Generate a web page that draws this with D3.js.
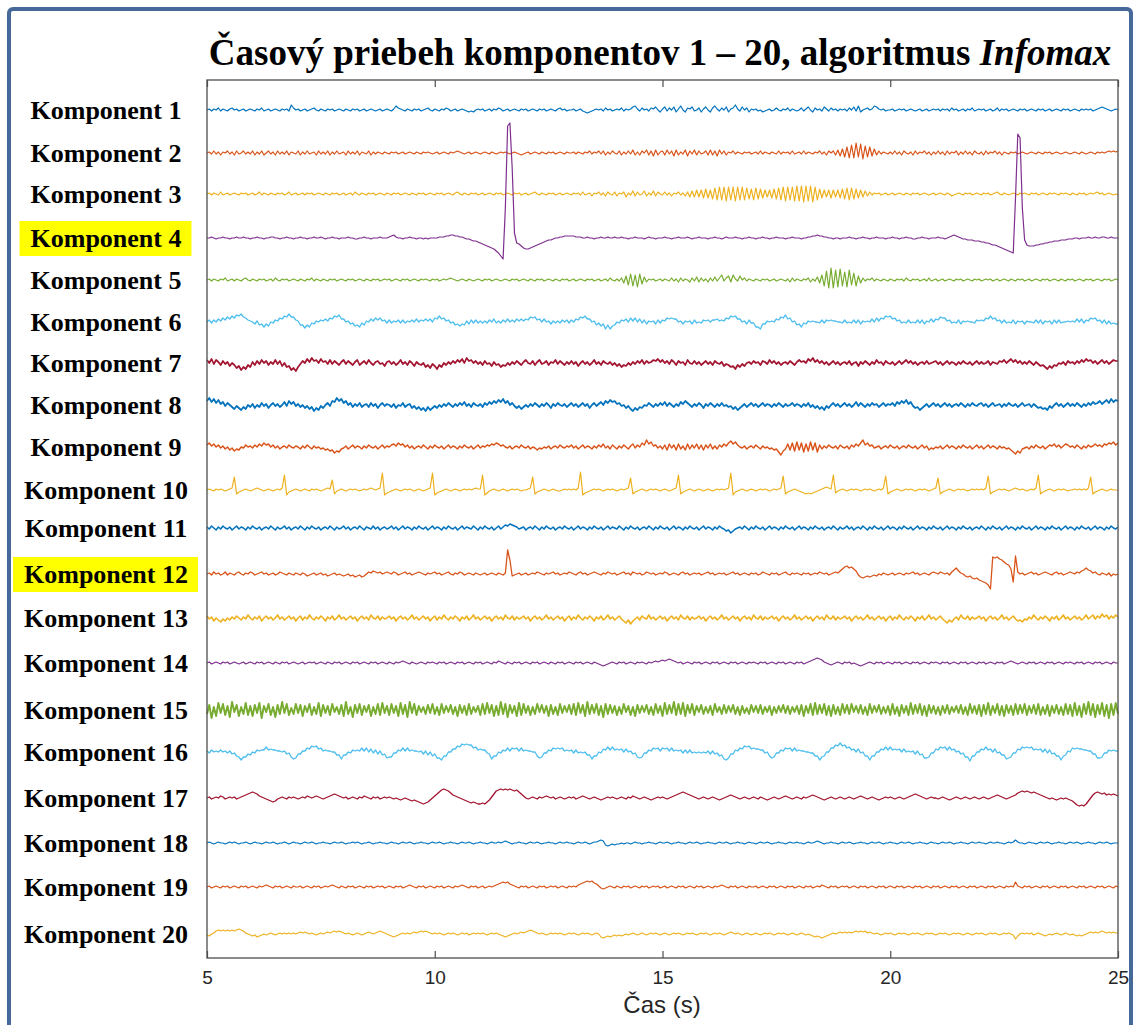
<!DOCTYPE html>
<html>
<head>
<meta charset="utf-8">
<style>
  body { margin: 0; background: #fff; }
  svg { display: block; }
  .comp-label { font-family: "Liberation Serif", "Times New Roman", serif; font-weight: bold; font-size: 26px; fill: #000; }
</style>
</head>
<body>
<svg width="1136" height="1025"></svg>
<script src="https://d3js.org/d3.v7.min.js"></script>
<script>
// ---- data ----
const labels = ["Komponent 1","Komponent 2","Komponent 3","Komponent 4","Komponent 5","Komponent 6","Komponent 7","Komponent 8","Komponent 9","Komponent 10",
  "Komponent 11","Komponent 12","Komponent 13","Komponent 14","Komponent 15","Komponent 16","Komponent 17","Komponent 18","Komponent 19","Komponent 20"];
const highlighted = [4, 12];
// vertical offset of each component (plot units)
const offsets = [848, 805, 764, 720, 678, 636, 595, 553, 511, 468, 430, 384, 340, 295, 248, 206, 160, 115, 71, 24];
const timeStart = 5;
const timeStep = 0.05;
const xTicks = [5, 10, 15, 20, 25];

const comp1 = [
0,1,-1,1,0,2,-1,1,0,-1,1,2,0,1,-1,0,1,-1,0,1,
0,-1,1,0,2,-1,0,1,-1,0,1,0,-1,1,0,1,-1,5,2,0,
1,-1,0,1,-1,0,1,2,0,-1,1,0,-1,1,0,1,-1,0,1,0,
-1,1,0,-1,1,0,1,-1,0,1,-1,0,1,0,-1,0,1,-1,0,1,
0,-1,1,4,2,1,0,-1,1,0,-1,1,0,1,-1,0,1,2,0,-1,
1,0,-1,1,0,2,1,-1,0,1,-1,0,1,0,-1,-2,-1,-2,0,1,
0,1,-1,0,1,-1,1,0,2,1,-1,0,1,-1,0,1,0,-1,1,0,
1,-1,0,1,0,-1,1,0,1,-1,0,1,0,-1,1,2,0,1,-1,0,
0,1,-1,0,1,-1,-2,-3,-2,-1,0,1,0,1,-1,2,0,1,-1,0,
1,0,2,-1,1,0,1,3,4,1,-1,2,0,1,-1,2,1,3,0,-2,
1,3,-1,2,0,3,-2,1,4,0,-2,2,1,3,-1,0,2,-2,1,3,
0,-2,2,4,1,-1,2,0,3,-2,1,2,5,1,-1,3,0,2,-2,1,
0,1,-1,0,-2,-1,0,1,-1,0,2,0,-1,1,0,2,-1,1,0,-1,
0,2,-1,1,3,0,-2,2,0,1,-1,3,1,-1,2,0,1,-1,1,0,
1,-1,2,0,3,-1,4,-2,0,1,2,0,1,4,3,1,0,1,-1,0,
0,1,-1,0,1,0,1,-1,0,1,0,-1,0,1,-1,0,1,-1,0,1,
0,1,-1,1,0,1,-1,2,0,1,-1,0,1,-1,1,0,2,-1,0,1,
0,1,-1,0,1,-1,0,2,-1,1,0,1,-1,0,1,0,-1,1,0,1,
-1,0,1,0,-1,1,0,1,-1,0,1,-1,0,1,0,-1,1,0,1,-1,
0,1,0,-1,1,0,1,0,1,-1,0,1,2,3,2,1,0,-1,0,1,
0];

const comp2 = [
0,1,-1,2,-1,1,-2,1,0,2,-1,1,-2,2,-1,0,2,-1,1,-1,
2,-2,1,-1,2,-2,0,2,-1,1,-2,2,-1,1,-1,2,-2,1,0,-1,
2,-2,1,-1,2,-1,0,1,-2,2,-1,1,-1,2,-2,1,-1,2,-1,0,
1,-2,2,-1,1,-1,2,-2,1,0,-1,2,-2,1,-1,1,0,-1,1,0,
-1,1,0,1,-1,0,1,-1,0,1,0,-1,1,0,-1,1,0,1,0,-1,
0,1,-1,0,1,0,-1,1,0,1,2,1,0,-1,0,1,-1,0,1,0,
-1,0,1,0,-1,1,0,-1,0,1,0,1,0,-1,0,1,0,-1,-2,-1,
0,1,-1,0,1,0,-1,1,0,-1,1,0,1,-1,0,1,0,-1,1,0,
0,1,-1,1,0,-1,1,0,2,-1,1,0,2,-1,2,-2,1,-1,2,0,
-1,2,-2,1,-1,2,-1,3,-2,1,-2,2,0,3,-2,2,-3,3,-2,1,
2,-2,3,-1,2,-3,3,-2,1,-1,3,-3,2,-1,3,-2,2,-1,0,2,
-2,3,-2,2,-3,3,-1,2,-2,1,0,2,-1,1,0,-1,1,0,1,-1,
0,1,-1,2,-1,1,0,-1,1,0,-1,2,-1,1,0,1,-1,2,-1,0,
1,-1,2,-1,1,0,-1,1,0,2,-1,1,-2,2,0,2,-2,3,-3,4,
-4,6,-5,8,-5,10,-4,9,-6,7,-4,6,-3,4,-2,2,-1,1,0,-1,
1,-1,2,-1,1,-2,2,0,-1,1,-2,2,-1,1,0,2,-1,1,-2,1,
-1,2,-1,1,-2,2,-1,1,0,2,-2,1,-1,2,-1,1,-2,2,0,-1,
1,-2,2,-1,1,0,2,-1,1,-2,1,0,-1,1,0,1,-1,0,1,0,
-1,0,1,0,-1,1,0,-1,1,0,1,-1,0,1,0,-1,0,1,0,-1,
0,1,0,-1,1,0,-1,0,1,0,-1,1,0,1,0,1,2,1,2,1,
2];

const comp3 = [
0,1,-1,1,0,-1,2,-1,0,1,-1,0,1,0,-1,1,0,1,-1,0,
1,-1,0,2,-1,1,0,-1,1,0,-1,1,0,1,-1,0,2,-1,0,1,
-1,0,1,-1,1,0,1,-1,0,1,0,-1,1,0,-1,1,0,1,-1,0,
1,-1,0,1,-1,2,0,-1,1,0,-1,1,0,1,-1,0,1,0,-1,1,
0,-1,1,0,1,-1,0,1,0,-1,1,0,-1,1,0,1,-1,0,1,0,
-1,1,0,1,-1,0,1,0,-1,1,2,0,-1,1,0,-1,1,0,1,-1,
0,1,-1,0,1,0,-1,1,0,1,-1,0,1,0,-1,1,0,1,-1,0,
1,-1,0,1,2,0,-1,1,0,-1,1,0,1,-1,0,1,-1,0,1,0,
-1,1,0,1,-1,2,-1,0,1,-2,1,0,2,-1,1,-2,2,0,-1,2,
-2,1,0,2,-3,1,-1,3,-2,2,-1,0,3,-2,1,-1,3,-2,2,0,
-1,2,-1,1,-2,1,0,2,-1,1,-2,2,-3,3,-3,4,-3,4,-4,5,
-4,4,-5,6,-6,7,-6,7,-7,7,-6,7,-7,7,-6,7,-6,6,-5,5,
-6,6,-5,5,-4,4,-3,4,-4,5,-5,6,-6,7,-7,7,-6,7,-7,8,
-7,8,-8,8,-7,8,-8,7,-6,5,-4,4,-3,4,-4,4,-3,4,-4,5,
-5,6,-6,6,-5,5,-4,4,-3,3,-2,2,-1,1,0,1,-1,0,1,-1,
0,1,-1,0,1,0,-1,1,0,-1,1,0,1,-1,0,1,0,-1,0,1,
-1,0,1,0,-1,1,0,-2,-1,0,1,0,-1,1,0,1,-1,0,1,0,
-1,1,0,1,-1,0,1,2,0,-1,1,0,-1,0,1,0,-1,1,0,1,
0,-1,1,0,1,-1,0,1,0,-1,1,0,1,0,-1,1,0,1,0,-1,
1,0,-1,1,0,1,-1,0,1,0,1,2,0,1,-1,0,1,0,-1,0,
-1];

const comp4 = [
0,0,1,0,-1,0,0,1,0,0,-1,0,0,1,0,0,1,0,0,-1,
0,0,1,0,0,-1,0,0,1,1,0,0,-1,0,0,1,0,0,-1,0,
0,1,0,0,-1,0,0,1,0,0,1,0,-1,0,0,1,0,0,-1,0,
0,0,1,0,0,-1,-1,0,0,1,0,0,-1,0,0,0,1,0,0,0,
1,2,3,1,0,0,-1,0,0,1,0,0,-1,0,0,-1,0,-1,0,0,
0,0,1,1,1,2,2,3,3,2,2,1,1,0,-1,-1,-2,-3,-3,-4,
-5,-6,-7,-8,-9,-10,-11,-13,-15,-18,-21,30,112,115,70,5,-5,-6,-8,-10,
-11,-11,-10,-9,-8,-7,-6,-5,-4,-3,-2,-2,-1,0,0,1,1,2,2,2,
2,2,1,1,1,0,0,1,0,0,-1,0,0,1,0,0,1,0,0,1,
0,0,1,0,0,-1,0,0,1,0,0,0,-1,0,1,0,0,-1,0,0,
0,1,0,0,-1,0,0,1,0,0,0,1,0,-1,0,0,1,0,0,0,
-1,0,0,1,0,0,-1,0,1,0,0,0,1,0,0,-1,0,0,1,0,
0,-1,0,0,1,0,0,-1,0,0,1,0,0,0,-1,0,0,1,0,0,
0,-1,0,0,1,1,2,2,3,2,2,1,1,0,0,-1,0,0,-1,0,
0,0,1,0,0,-1,0,0,1,0,0,-1,0,0,1,0,0,0,-1,0,
0,1,0,0,-1,0,0,1,0,0,-1,-1,0,0,1,0,0,-1,0,0,
0,1,0,0,-1,0,1,2,3,2,1,0,-1,-1,-2,-2,-2,-3,-3,-3,
-4,-4,-5,-5,-6,-7,-7,-8,-9,-10,-11,-12,-13,-14,-15,40,104,100,30,-2,
-7,-8,-8,-8,-7,-7,-6,-6,-5,-5,-4,-4,-3,-3,-3,-2,-2,-2,-1,-1,
-1,0,0,-1,0,0,0,1,0,0,1,0,0,1,1,0,0,1,0,0,
0];

const comp5 = [
0,1,-1,1,0,-1,1,0,2,-1,0,1,-1,1,0,-1,1,2,0,-1,
1,0,-1,1,0,1,-1,0,1,-1,2,0,-1,1,0,1,-1,0,1,0,
-1,1,0,-1,1,0,2,-1,1,0,-1,1,0,-1,1,0,1,-1,0,1,
0,-1,1,0,1,-1,0,1,0,-1,1,0,-1,1,0,1,-1,0,1,0,
1,-1,0,1,0,-1,1,0,1,-1,0,1,0,-1,1,0,1,0,-1,1,
0,1,-1,0,1,0,1,2,1,0,-1,0,1,0,-1,1,0,-1,0,1,
0,-1,1,0,1,-1,0,1,0,-1,0,1,0,-1,1,0,1,-1,0,1,
0,-1,1,0,-1,1,0,1,-1,0,1,0,-1,1,0,-1,1,0,1,-1,
0,1,-1,0,1,0,-1,1,0,1,-1,0,1,-1,0,1,-1,2,0,-1,
1,-1,2,-3,4,-5,6,-6,5,-7,6,-4,3,-2,1,0,1,-1,0,1,
-1,1,0,-1,2,-1,1,-2,2,-1,1,0,-2,2,-1,3,-2,2,-1,1,
-2,2,-1,3,-1,2,5,-1,2,4,-2,5,1,-1,4,0,2,-1,1,0,
-1,1,0,-1,1,0,1,-1,0,1,-1,0,1,0,-1,1,-2,2,-1,1,
0,-1,1,0,2,-2,1,-1,3,-3,5,-6,9,-8,12,-8,10,-7,11,-6,
8,-7,10,-5,7,-6,4,-3,2,-1,1,0,2,-1,1,0,-1,1,0,-1,
1,0,-1,1,0,1,-1,2,0,-1,1,0,1,-1,0,1,-1,2,-1,0,
1,-1,0,1,-1,0,1,0,-1,1,0,1,-1,0,1,0,-1,1,0,1,
-1,0,1,0,1,-1,0,1,-1,0,1,0,-1,1,0,-1,1,0,1,-1,
0,1,-1,0,1,0,-1,1,0,1,-1,0,1,0,-1,1,0,-1,1,0,
1,-1,0,1,0,-1,1,0,1,-1,0,1,0,-1,1,0,1,-1,0,1,
0];

const comp6 = [
0,2,-1,2,0,3,1,4,2,5,3,6,4,7,6,8,5,4,2,1,
0,-2,1,-3,-2,-5,-2,-4,0,-1,2,1,4,3,6,5,8,5,5,2,
1,-3,-3,-6,-3,-5,-1,-2,1,0,2,1,3,1,4,3,6,5,7,3,
3,0,1,-2,-1,-4,-3,-5,-1,-3,1,0,3,1,4,2,4,1,2,-1,
2,-1,1,0,2,-1,2,-1,1,0,2,0,3,0,2,1,3,1,3,0,
4,3,6,3,4,1,2,-1,0,-3,-2,-4,-2,-3,1,-2,2,-1,2,-1,
1,-1,1,-1,2,0,3,-1,1,-1,2,0,3,0,2,0,3,1,3,1,
3,2,5,4,5,2,3,0,3,0,1,-2,1,-1,1,-1,2,0,2,-1,
2,0,3,2,5,4,6,3,3,0,1,-3,-1,-4,-2,-7,-3,-7,-4,-3,
0,-1,2,1,3,0,4,1,4,0,3,-1,2,-2,1,0,1,-2,2,-1,
2,1,4,3,4,3,3,0,1,-2,1,0,1,-2,2,-1,0,-1,2,1,
2,0,2,2,3,1,2,1,4,3,6,5,6,3,3,0,1,-2,2,-1,
-1,-5,-5,-7,-2,-2,1,0,1,0,3,2,5,4,7,3,4,0,1,-3,
-2,-5,-1,-2,1,0,1,0,0,-1,2,-1,2,1,2,1,1,0,0,-1,
2,-1,0,-1,2,-1,2,-2,1,0,1,0,3,0,4,1,4,3,6,5,
6,3,4,1,2,-1,0,-1,2,-1,0,-1,2,-1,2,-2,1,0,3,0,
3,2,5,4,4,1,2,-1,0,-1,2,-2,1,0,1,0,0,-1,2,1,
2,1,4,3,6,3,4,1,2,-1,2,-1,0,-1,2,-2,1,0,1,-2,
1,0,0,-1,2,-1,2,-2,1,0,1,-2,2,-1,2,-1,0,0,1,0,
1,0,3,0,3,-1,2,1,4,3,4,1,2,-1,2,-2,1,-2,-1,-2,
-2];

const comp7 = [
3,0,4,-1,3,1,-2,2,-1,1,-3,0,-2,-5,-3,-7,-4,-6,-2,-4,
1,-2,2,-1,3,0,2,-2,1,-1,3,-1,2,-3,0,-4,-3,-7,-5,-8,
-4,-1,2,0,4,1,5,2,3,0,4,1,2,-1,3,-1,2,0,-2,1,
3,-1,2,0,-2,1,3,-2,0,2,-1,3,0,-2,1,2,-1,0,-3,1,
2,-1,1,-2,0,3,-1,1,-2,2,0,-3,1,-1,-2,0,-4,-2,-5,-1,
-3,-6,-2,-4,0,-2,1,-1,2,0,3,1,4,0,5,2,3,0,2,-1,
1,-2,2,-1,0,-3,1,-2,-1,-4,-2,-3,0,-2,1,-1,2,0,-2,1,
3,0,-1,2,-2,1,3,-1,0,2,-2,1,0,3,-1,2,0,-2,1,-1,
2,-1,1,-3,0,2,-1,1,-2,0,3,-1,1,-2,2,0,-1,1,-2,0,
-3,-1,-4,-2,-3,0,-2,1,-1,2,0,3,-1,2,0,1,3,2,4,1,
3,0,2,-1,3,1,-2,2,0,1,-2,3,0,-1,2,-1,1,-2,0,2,
-1,1,-2,2,0,-1,1,-3,-1,-2,-4,-3,-6,-2,-4,-1,-3,0,1,-1,
2,0,1,-2,2,1,-1,3,0,2,-1,1,-2,0,1,-1,2,0,-2,1,
3,1,2,0,4,2,5,1,3,0,2,-1,1,-2,0,2,-1,1,-2,0,
1,-1,2,-2,0,1,-3,1,-1,2,0,-2,1,-1,3,0,1,-2,2,0,
-1,1,-2,0,2,-1,1,3,0,2,-1,1,-2,0,1,-1,2,-1,0,1,
2,-1,1,-2,0,2,-1,1,0,-2,1,-1,2,0,-1,1,-2,0,2,-1,
1,-1,0,2,-2,1,0,-1,2,1,3,0,2,4,1,3,0,2,-1,1,
-1,2,0,-2,1,-1,-3,-2,-4,-6,-3,-5,-2,-3,0,-1,1,-2,2,0,
1,-1,2,0,3,1,4,2,3,0,2,-1,1,3,0,2,-1,1,3,2,
2];

const comp8 = [
4,7,3,6,2,5,1,3,-1,2,0,-2,-4,-1,-3,-5,-2,-4,0,-2,
1,-3,0,-2,2,-1,1,-3,0,2,-1,1,-2,0,3,-1,4,1,3,-1,
1,-2,0,-3,-1,-4,-2,-6,-3,-5,-1,-3,0,2,-1,4,3,7,4,6,
2,4,0,2,-2,1,-1,2,-2,0,1,-2,2,-1,1,-3,0,2,-1,1,
0,-2,1,-3,0,-1,2,-2,0,1,-3,-1,-4,-2,-5,-3,-6,-2,-5,-3,
-1,-3,0,-2,1,-1,2,0,-2,1,-1,2,0,3,-1,1,-2,2,0,-1,
1,-2,2,0,3,1,4,2,5,3,6,2,4,0,2,-1,-3,-1,-4,-2,
0,-2,1,-1,2,0,-2,1,-1,2,0,-3,1,-1,2,0,-1,1,-2,0,
2,-1,1,-2,0,2,-1,1,-3,0,2,-1,1,3,0,4,2,5,3,4,
1,2,-1,0,-3,-1,-4,-6,-3,-5,-2,-3,0,-1,2,0,-2,1,-1,2,
0,3,-1,2,0,-2,1,-1,3,1,4,2,0,-2,1,-1,2,0,-3,1,
-1,2,0,-2,1,-1,2,-1,0,-2,-1,-4,-2,-5,-3,-1,1,-2,0,2,
-1,1,-2,0,2,-1,1,0,-2,1,-1,2,0,-2,1,-1,0,2,-1,1,
0,-2,1,-1,2,-2,0,-3,-1,-4,-2,-5,-1,-3,0,2,-1,1,-2,0,
2,-1,1,-2,0,3,-1,2,0,-2,1,-1,2,0,1,-2,0,2,-1,1,
0,2,-1,3,1,4,2,5,1,3,-1,-3,-2,-5,-3,-1,1,-2,0,2,
-1,1,-2,0,2,-1,1,-2,0,1,-1,2,0,-2,1,-1,2,0,-1,1,
2,-1,1,-2,0,2,-1,0,1,-2,1,-1,2,0,-1,1,-2,0,2,-1,
0,1,-2,1,-1,-3,-2,-4,-3,-5,-1,-3,0,2,-1,1,-2,0,2,-1,
1,-1,2,0,-2,1,-1,2,0,3,1,2,4,1,3,5,2,6,3,5,
4];

const comp9 = [
2,4,1,3,0,2,-1,1,-2,0,-3,-1,-4,-2,-3,0,-1,2,0,1,
-1,2,0,3,1,4,2,3,0,2,-1,1,-2,0,1,-1,2,0,-1,1,
0,-2,1,-1,2,0,-2,1,-1,0,-2,-1,-3,-2,-4,-3,-6,-4,-5,-2,
-1,1,-2,0,2,-1,1,0,-2,1,-1,2,0,-1,1,-2,0,2,-1,1,
0,2,3,1,4,2,3,0,2,-1,1,-2,0,1,-1,2,0,-2,1,-1,
2,0,-1,1,-2,0,2,-1,1,0,-2,1,-1,2,0,-1,1,-2,0,2,
-1,1,0,2,1,3,2,4,3,1,2,0,-1,1,-2,0,1,-1,2,0,
-1,1,-2,0,-1,-3,-1,-2,0,-1,1,-2,0,1,-1,2,0,-1,1,0,
2,-1,1,-2,0,2,-1,1,0,-2,1,-1,2,0,3,-1,1,-2,2,0,
-2,1,-1,2,0,-2,1,3,-1,2,0,4,2,7,3,5,1,2,-1,1,
-2,2,-3,3,-1,2,-3,3,-2,1,-3,3,-2,2,-1,3,-2,2,-3,2,
-1,3,-2,1,-2,2,0,3,1,4,6,3,5,2,0,-1,1,-2,0,1,
-1,2,0,-2,1,-1,0,-2,-1,-3,-2,-5,-8,-4,-2,3,-3,4,-4,5,
-3,4,-5,3,-4,5,-3,4,-5,2,-2,1,-1,2,0,-1,1,-2,2,0,
-1,1,-2,2,0,3,1,4,7,2,4,1,2,-1,0,1,-2,0,1,-1,
2,0,-1,1,-2,0,1,-1,2,0,-1,1,-2,0,2,-1,1,-3,-1,-2,
0,-1,1,-2,0,2,-1,1,0,-2,1,-1,2,0,-1,1,-2,0,2,-1,
1,-2,0,2,-1,1,0,-2,1,-1,0,-2,-1,-3,-5,-7,-4,-6,-2,-1,
0,-2,1,-1,2,0,-1,1,-2,0,2,1,3,0,2,-1,1,3,2,0,
1,-1,2,0,-2,1,-1,2,0,1,3,1,2,0,3,2,4,3,5,2,
4];

const comp10 = [
0,1,0,-1,1,0,1,0,-1,0,1,2,13,-4,-2,-1,0,1,0,-1,
0,1,2,1,0,-1,0,1,0,-1,0,1,0,2,15,-5,-2,-1,0,1,
0,-1,0,1,0,-1,1,0,1,0,-1,0,1,2,1,10,-4,-1,0,1,
0,-1,0,1,0,1,0,-1,0,1,0,1,2,1,0,1,2,17,-5,-3,
-2,-1,0,1,0,-1,0,1,0,1,0,-1,0,1,0,-1,0,1,2,17,
-5,-3,-2,-1,0,1,0,-1,0,1,0,-1,0,1,0,1,0,1,2,1,
1,15,-5,-3,-1,0,1,0,-1,0,1,0,-1,0,1,0,1,0,-1,0,
0,1,2,13,-4,-2,-1,0,1,0,-1,0,1,0,-1,-1,0,1,0,1,
0,1,0,2,18,-5,-3,-2,-1,0,1,0,1,0,-1,0,1,0,1,0,
-1,0,1,0,1,2,12,-4,-2,-1,0,1,0,-1,0,1,0,1,0,-1,
0,1,0,-1,0,1,2,15,-4,-2,-1,0,1,0,-1,0,1,0,-1,0,
1,0,-1,0,1,0,1,0,1,2,17,-5,-2,-1,0,1,0,-1,0,1,
0,-1,0,1,0,1,0,-1,0,1,0,1,2,14,-4,-2,-1,0,1,0,
-1,-2,-3,-4,-3,-4,-3,-2,-1,0,1,2,3,2,1,15,-3,-1,0,1,
0,-1,0,1,0,1,0,-1,0,1,0,1,0,-1,0,1,0,2,14,-4,
-2,-1,0,1,0,-1,0,1,0,1,0,-1,0,1,0,1,0,-1,0,1,
2,12,-4,-2,-1,0,1,0,-1,0,1,0,1,0,-1,0,1,0,1,0,
1,0,2,14,-4,-2,-1,0,1,0,1,0,-1,0,1,2,1,0,1,0,
-1,0,1,0,2,15,-4,-2,-1,0,1,0,-1,0,1,0,1,0,-1,0,
0,1,0,1,0,1,0,2,13,-4,-2,-1,0,1,0,-1,0,1,0,0,
0];

const comp11 = [
1,-1,2,0,-2,1,-1,2,0,-1,1,-2,0,2,-1,1,0,-2,1,-1,
2,0,-1,1,-2,0,1,-1,2,0,-2,1,-1,0,2,-1,1,-2,0,1,
-1,2,0,-2,1,-1,2,0,-1,1,-2,0,1,-1,2,0,-2,1,-1,0,
2,-1,1,-2,0,1,-1,2,0,-2,1,0,-1,2,-1,1,-2,0,1,-1,
0,2,-1,1,-2,0,2,-1,1,0,-2,1,-1,2,0,-1,1,-2,0,2,
-1,1,0,-2,1,-1,2,0,-1,1,-2,0,2,-1,1,0,-1,2,0,-2,
1,-1,2,0,-1,1,-2,0,2,-1,1,3,2,4,3,2,1,-1,0,1,
-2,0,1,-1,2,0,-2,1,-1,2,0,-1,1,-2,0,1,-1,2,0,-1,
1,-2,0,2,-1,1,0,-2,1,-1,2,0,-1,1,-2,0,2,-1,1,0,
-1,2,0,-2,1,-1,2,0,-1,1,-2,0,1,-1,2,0,-2,1,-1,2,
0,-1,1,-2,0,2,-1,1,0,-2,1,-1,2,0,-1,1,-2,0,2,-1,
1,0,-2,1,-1,2,0,-1,-3,-2,-5,-3,-1,0,1,-1,2,0,-2,1,
-1,2,0,-1,1,-2,0,2,-1,1,0,-2,1,-1,2,0,-1,1,-2,0,
2,-1,1,0,-2,1,-1,2,0,-1,1,-2,0,1,-1,2,0,-2,1,-1,
0,2,-1,1,-2,0,1,-1,2,0,-2,1,-1,2,0,-1,1,-2,0,2,
-1,1,0,-2,1,-1,2,0,-1,1,-2,0,2,-1,1,0,-2,1,-1,2,
0,-1,1,-2,0,2,-1,1,0,-2,1,-1,2,0,-1,1,-2,0,1,-1,
2,0,-2,1,-1,2,0,-1,1,-2,0,2,-1,1,0,-2,1,-1,2,0,
-1,1,-2,0,2,-1,1,0,-2,1,-1,2,0,-1,1,-2,0,2,-1,1,
0,-2,1,-1,2,0,-1,1,-2,0,2,-1,1,0,-2,1,-1,2,0,-1,
1];

const comp12 = [
0,1,-1,2,0,1,-1,0,2,-1,1,0,-1,1,2,0,-1,1,0,2,
1,-1,0,1,2,0,1,-1,0,1,-1,0,2,1,0,-1,1,0,-1,1,
0,-1,1,0,-2,-1,0,1,-1,0,1,-1,0,-2,-1,0,1,-1,0,-1,
-2,-1,0,-2,-1,-3,-2,-1,-3,-2,0,2,1,3,2,1,2,0,1,2,
1,0,2,1,-1,0,1,2,0,1,-1,0,1,2,1,0,-1,1,0,1,
2,0,1,-1,0,1,2,0,-1,1,0,2,1,-1,0,1,0,-1,1,0,
-1,0,1,-1,0,1,0,-1,1,0,-1,1,24,14,-2,-1,0,1,-1,0,
1,-1,0,1,0,2,1,0,-1,1,0,1,2,0,1,-1,0,1,0,2,
1,0,-1,1,2,0,1,-1,0,1,2,1,0,-1,1,0,2,1,0,1,
-1,0,1,2,0,1,-1,2,1,0,1,-1,0,2,1,0,1,-1,0,1,
0,2,1,-1,0,1,0,-1,1,2,0,1,-1,0,1,0,1,-1,0,1,
2,0,1,-1,0,1,0,1,-1,0,1,2,0,1,-1,0,1,0,-1,1,
0,1,-1,0,2,1,0,-1,1,0,1,-1,0,1,2,0,-1,1,0,1,
0,-1,1,0,1,-1,0,1,0,2,1,0,1,-1,0,1,2,1,3,5,
7,8,6,7,5,3,-1,-3,-4,-3,-2,-3,-2,-1,-2,0,-1,1,0,-1,
0,1,-1,0,1,0,-1,1,0,1,2,0,1,-1,0,1,0,-1,1,2,
1,0,2,1,0,1,-1,2,4,6,3,1,0,-2,-3,-2,-4,-5,-4,-6,
-7,-8,-9,-11,-15,17,16,17,15,14,12,10,9,5,-8,18,2,0,1,-1,
0,1,2,0,1,-1,0,1,2,1,0,-1,1,2,0,1,-1,0,1,2,
1,0,2,1,3,4,6,4,3,1,2,0,-1,1,0,-1,1,-2,0,-1,
0];

const comp13 = [
2,-1,1,-3,0,-2,-4,-1,-3,0,-2,1,-1,2,0,-2,1,-1,3,0,
-2,1,-1,2,-3,0,2,-1,1,-2,0,3,-1,1,-2,0,2,-1,1,-3,
0,2,-2,1,-1,3,0,-2,1,-1,2,0,-3,1,-1,2,-2,0,3,-1,
1,-2,0,2,-1,1,-3,0,2,-1,1,-2,3,0,-1,2,-2,1,-1,0,
2,-1,1,-3,0,2,-1,1,-2,0,3,-1,1,-2,0,2,-1,1,-3,0,
2,-2,1,-1,3,0,-2,1,-1,2,0,-3,1,-1,2,-2,0,3,-1,1,
-2,0,2,-1,1,-3,0,2,-1,1,-2,3,0,-1,2,-2,1,-1,0,2,
-1,1,-3,0,2,-1,1,-2,0,3,-1,1,-2,0,2,-1,1,-3,0,2,
-2,1,-1,3,0,-2,1,-1,2,0,-3,1,-1,2,-2,0,3,-1,1,-2,
0,2,-1,-3,-5,-2,-6,-3,-1,1,-2,2,0,-1,3,-1,1,-2,0,2,
-1,1,-3,0,2,-1,1,-2,3,0,-1,2,-2,1,-1,0,2,-1,1,-3,
0,2,-1,1,-2,0,3,-1,1,-2,0,2,-1,1,-3,0,2,-1,1,-2,
3,0,-1,2,-2,1,-1,0,2,-1,1,-3,0,2,-1,1,-2,0,3,-1,
1,-2,0,2,-1,1,-3,0,2,-1,1,-2,3,0,-1,2,-2,1,-1,0,
2,-1,1,-3,0,2,-1,1,-2,0,3,-1,1,-2,0,2,-1,1,-3,0,
2,-2,1,-1,3,0,-2,1,-1,2,0,-3,1,-1,2,-2,0,3,-1,1,
-2,0,2,-1,-3,-5,-2,-4,-1,1,-2,3,0,-1,2,-2,1,-1,0,2,
-1,1,-3,0,2,-1,1,-2,0,3,-1,1,-2,0,2,-1,-3,-2,-4,-1,
-2,1,-1,3,0,-2,1,-1,2,0,-3,1,-1,2,-2,0,3,-1,1,-2,
0,2,-1,1,-2,0,3,-1,1,3,-1,2,0,4,1,3,-1,2,0,3,
1];

const comp14 = [
0,1,-1,0,1,0,-1,1,0,1,-1,0,1,0,-1,0,1,-1,0,1,
0,-1,1,0,1,-1,0,1,0,-1,1,0,-1,1,0,1,-1,0,1,0,
-1,0,1,-1,0,1,0,1,-1,0,1,0,-1,1,0,-1,1,0,1,-1,
0,1,0,-1,1,0,1,-1,0,1,0,-1,1,0,1,-1,0,1,0,-1,
1,0,-1,1,0,1,2,1,0,-1,1,0,-1,0,1,0,-1,1,0,1,
0,-1,1,0,1,-1,0,1,0,-1,1,0,1,-1,0,1,0,-1,1,0,
1,-1,0,1,0,-1,1,0,2,1,0,-1,1,0,-1,1,0,1,-1,0,
1,0,-1,1,0,1,-1,0,1,0,-1,1,0,-1,1,0,1,-1,0,1,
0,-1,1,0,1,-1,0,1,0,-1,1,0,-1,-2,-3,-2,-1,0,1,0,
-1,1,0,1,-1,0,1,0,-1,1,0,1,0,-1,1,0,1,2,1,2,
3,2,3,4,3,2,1,0,1,-1,0,1,0,-1,1,0,1,-1,0,1,
0,-1,1,0,1,-1,0,1,0,-1,1,0,1,-1,0,1,0,-1,1,0,
1,0,-1,1,0,1,-1,0,1,0,-1,1,0,1,-1,0,1,0,-1,1,
0,1,-1,0,1,2,3,4,5,4,3,1,0,-1,-2,-1,0,1,0,-1,
1,0,1,-1,0,-1,-2,-3,-2,-1,0,1,0,-1,1,0,1,-1,0,1,
0,-1,1,0,1,-1,0,1,0,-1,1,0,1,-1,0,1,0,-1,1,0,
1,0,-1,1,0,1,-1,0,1,0,-1,1,0,1,-1,0,1,0,-1,1,
0,1,-1,0,1,0,-1,1,0,1,-1,0,1,2,1,0,-1,0,1,0,
-1,1,0,1,-1,0,1,0,-1,1,0,1,-1,0,1,0,-1,1,0,1,
0,-1,1,0,1,-1,0,1,0,-1,1,0,1,-1,0,1,0,-1,1,0,
0];

const comp15 = [
-4,5,-8,3,-6,7,-3,6,-5,4,-7,8,-2,5,-6,3,-4,7,-5,4,
-6,5,-3,7,-8,4,-2,6,-5,3,-7,5,-4,8,-3,6,-5,2,-4,6,
-3,5,-6,4,-2,6,-5,3,-4,7,-6,5,-3,4,-5,6,-2,3,-4,5,
-6,8,-4,3,-7,5,-3,6,-5,4,-2,5,-6,3,-4,6,-5,7,-3,4,
-5,6,-3,4,-6,7,-4,5,-7,8,-3,6,-5,4,-2,3,-4,5,-3,6,
-4,3,-5,6,-3,4,-2,5,-4,3,-6,5,-3,4,-5,6,-4,3,-2,4,
-5,6,-4,7,-3,5,-6,4,-5,8,-4,6,-7,5,-3,4,-6,7,-5,6,
-3,4,-5,3,-4,6,-2,5,-3,4,-6,5,-4,3,-5,6,-3,4,-2,5,
-4,6,-5,7,-3,5,-6,8,-4,5,-3,6,-5,4,-7,6,-4,5,-3,4,
-5,3,-4,6,-2,4,-5,3,-6,5,-3,4,-2,5,-4,3,-5,6,-3,4,
-6,7,-4,5,-3,8,-5,6,-4,7,-6,5,-3,6,-5,4,-2,5,-4,3,
-3,4,-5,6,-2,3,-4,5,-3,4,-2,5,-4,3,-5,4,-3,2,-4,5,
-2,4,-3,5,-4,3,-2,4,-5,3,-3,4,-2,5,-3,4,-4,3,-2,4,
-4,5,-6,4,-3,6,-5,7,-4,5,-3,6,-5,4,-6,5,-4,3,-5,6,
-3,5,-4,6,-2,4,-3,5,-4,3,-5,6,-3,4,-2,5,-4,3,-3,4,
-5,6,-4,3,-6,5,-3,4,-5,7,-4,5,-3,6,-5,4,-6,5,-3,4,
-4,3,-5,4,-3,5,-4,3,-2,4,-3,5,-4,3,-5,6,-3,4,-4,5,
-6,5,-4,7,-5,4,-3,6,-5,4,-6,5,-3,4,-5,6,-4,5,-3,6,
-5,4,-3,5,-4,6,-5,3,-4,5,-6,4,-3,5,-4,3,-5,6,-4,5,
-6,7,-5,4,-7,6,-4,8,-5,6,-7,5,-4,7,-6,5,-8,6,-5,7,
-4];

const comp16 = [
1,-1,2,0,1,0,2,0,1,-1,1,-2,-1,-4,-5,-8,-5,-5,-2,-3,
0,-1,2,1,2,2,5,2,3,2,2,1,1,0,1,-2,-1,-5,-7,-6,
-2,-2,1,1,4,3,6,5,6,3,4,1,2,1,1,0,0,-3,-3,-7,
-3,-3,0,-1,2,1,2,1,4,1,4,0,3,-1,2,-2,1,-3,-2,-6,
-5,-5,-1,-1,2,1,4,1,4,1,2,1,1,0,1,-2,1,-3,0,-4,
-2,-6,-6,-8,-4,-4,0,0,3,3,6,5,8,7,8,7,7,4,5,2,
3,2,2,-1,-2,-7,-4,-4,0,-1,2,1,4,1,4,3,4,1,4,1,
2,1,1,0,0,-4,-6,-5,-1,-1,2,1,4,3,4,3,4,1,2,1,
2,-1,2,-1,0,-1,0,-3,-3,-7,-4,-4,0,-1,3,2,5,2,5,2,
3,2,3,0,3,0,1,-2,-1,-5,-6,-5,-1,-1,2,1,4,3,4,1,
4,3,4,1,4,1,2,1,2,-1,2,-1,2,-1,0,-1,0,-1,0,-1,
1,-2,1,-2,-1,-4,-3,-7,-8,-6,-2,-2,2,1,4,3,6,5,6,3,
4,3,3,2,2,-1,0,-4,-6,-5,-1,-1,2,1,4,3,4,1,4,1,
2,1,1,0,0,-1,-1,-4,-4,-8,-5,-4,0,0,4,4,7,6,9,6,
7,4,5,2,3,0,3,-1,0,-4,-4,-8,-4,-4,0,0,3,2,5,2,
5,2,3,2,3,0,3,0,1,0,1,-2,1,-3,-2,-6,-6,-5,-1,-1,
3,2,5,4,5,2,5,2,3,0,1,-2,-1,-5,-5,-9,-4,-4,0,0,
3,2,5,2,3,0,3,-1,0,-3,-3,-7,-6,-5,-1,-1,3,2,5,4,
5,4,5,2,3,2,3,0,3,-1,2,-2,-1,-4,-4,-8,-4,-3,1,0,
4,3,4,3,3,2,2,1,1,-2,-2,-6,-6,-5,-1,-1,2,1,2,1,
1];

const comp17 = [
0,1,-1,0,1,0,2,1,-1,0,1,0,1,-1,0,1,2,3,4,5,
6,5,4,2,1,0,-1,-2,-3,-4,-3,-1,0,1,0,-1,1,0,1,0,
-1,0,1,0,2,1,0,1,2,1,0,-1,0,1,2,3,4,3,2,1,
0,1,-1,0,1,0,-1,1,0,2,1,0,-1,1,0,1,-1,0,1,0,
1,0,-1,0,-1,-2,-1,0,-1,-2,-3,-2,-3,-4,-5,-6,-5,-4,-2,0,
2,4,6,8,9,8,7,5,3,2,1,0,-1,-2,-3,-4,-5,-4,-5,-6,
-6,-5,-6,-4,-2,1,4,7,8,9,8,9,8,9,8,7,8,6,4,2,
0,-1,0,1,0,-1,1,0,1,2,1,0,1,-1,0,1,0,-1,0,1,
0,1,-1,0,1,2,1,0,-1,0,1,0,-1,-2,-1,0,1,0,1,0,
-1,0,1,0,-1,1,0,2,1,0,-1,0,1,0,-1,-2,-1,0,1,0,
1,0,-1,0,1,2,3,4,5,6,5,4,3,2,1,0,-1,0,1,0,
-1,0,1,0,-1,-2,-1,0,1,2,3,2,1,0,-1,0,1,0,-1,0,
1,0,-1,1,0,-1,-2,-1,0,1,0,-1,0,1,2,1,0,-1,0,1,
0,-1,1,0,1,2,3,2,1,0,-1,-2,-1,0,1,0,-1,0,1,0,
-1,0,1,0,-1,0,1,2,1,0,-1,0,1,0,-1,-2,-1,0,1,0,
1,0,-1,0,1,0,-1,0,1,2,3,4,3,2,1,0,-1,0,1,0,
0,-1,0,1,0,-1,-2,-1,0,1,0,-1,0,1,0,-1,0,1,0,-1,
0,1,0,-1,0,1,2,3,2,1,0,-1,0,1,2,3,5,6,7,6,
7,6,5,6,5,4,3,2,1,0,-1,0,-1,-2,-1,0,-1,0,-1,-2,
-3,-5,-7,-8,-7,-8,-6,-3,0,3,5,6,5,4,5,3,4,3,4,3,
2];

const comp18 = [
0,1,0,-1,0,1,0,0,-1,0,1,0,1,0,-1,0,0,1,0,-1,
0,1,0,0,-1,0,1,0,0,1,0,-1,0,0,1,0,-1,0,1,0,
0,-1,0,1,0,0,1,0,-1,0,0,1,0,0,-1,0,1,0,0,1,
0,-1,0,0,1,0,1,0,-1,0,0,1,0,-1,0,0,1,0,0,-1,
0,1,0,0,-1,0,1,0,0,1,0,-1,0,0,1,0,0,-1,0,1,
0,0,1,0,-1,0,0,1,0,0,-1,0,1,0,0,1,0,-1,0,0,
1,0,0,-1,0,1,0,0,1,0,1,2,1,0,-1,0,0,1,0,0,
-1,0,1,0,0,1,0,-1,0,0,1,0,0,-1,0,1,0,0,1,0,
0,-1,0,1,0,0,1,0,-1,0,1,1,2,3,2,-2,-3,-2,-1,-2,
-1,-1,0,-1,0,0,-1,0,1,0,0,-1,0,0,1,0,0,-1,0,1,
0,0,1,0,-1,0,0,1,0,0,-1,0,1,0,0,1,0,-1,0,0,
1,0,0,-1,0,1,0,0,1,0,-1,0,0,1,0,0,-1,0,1,0,
0,-1,0,1,0,0,1,0,-1,0,0,1,0,0,-1,0,1,0,0,1,
0,0,-1,0,1,0,0,1,2,1,0,-1,0,0,1,0,0,-1,0,1,
0,0,1,0,-1,0,0,1,0,0,-1,0,1,0,0,1,0,-1,0,0,
1,0,0,-1,0,1,0,0,1,0,-1,0,0,1,0,0,-1,0,1,0,
0,-1,0,1,0,0,1,0,-1,0,0,1,0,0,-1,0,1,0,0,1,
0,0,-1,0,1,0,0,1,0,0,-1,0,1,0,1,3,1,0,0,-1,
0,1,0,0,-1,0,1,0,0,1,0,-1,0,0,1,0,0,-1,0,1,
0,0,1,0,-1,0,0,1,0,0,-1,0,1,0,0,1,0,-1,0,0,
0];

const comp19 = [
0,1,-1,0,1,0,-1,1,0,1,-1,0,1,0,-1,1,0,1,-1,0,
1,0,-1,1,0,1,2,1,0,-1,1,0,1,-1,0,1,0,-1,1,0,
0,1,-1,0,1,0,-1,1,0,1,-1,0,1,0,1,2,1,0,-1,1,
0,-1,1,0,1,-1,0,1,0,-1,1,0,1,-1,0,1,0,1,-1,0,
1,0,-1,1,0,1,-1,0,1,2,1,0,-1,1,0,1,-1,0,1,0,
-1,1,0,1,-1,0,1,0,-1,1,0,1,2,1,0,-1,1,0,1,-1,
0,1,-1,0,1,0,1,2,3,4,5,4,5,3,2,1,0,-1,1,0,
1,-1,0,1,0,-1,1,0,1,-1,0,1,0,1,-1,0,1,0,-1,1,
0,1,0,2,3,4,5,6,5,6,4,3,1,-1,-2,-1,0,1,0,-1,
1,0,-1,1,0,1,-1,0,1,0,-1,1,0,1,-1,0,1,0,1,-1,
0,1,-1,0,1,0,-1,1,0,1,-1,0,1,0,-1,1,0,1,-1,0,
1,0,-1,1,0,1,2,1,0,-1,1,0,1,-1,0,1,0,-1,1,0,
0,1,-1,0,1,0,-1,1,0,1,-1,0,1,0,-1,1,0,1,-1,0,
1,0,-1,1,0,1,-1,0,1,0,2,1,0,-1,1,0,1,-1,0,1,
0,1,-1,0,1,0,-1,1,0,1,-1,0,1,0,-1,1,0,1,-1,0,
1,0,-1,1,0,1,-1,0,1,0,-1,1,0,1,-1,0,1,0,-1,1,
0,1,-1,0,1,0,-1,1,0,1,-1,0,1,0,-1,1,0,1,-1,0,
1,0,-1,1,0,1,-1,0,1,0,-1,1,0,1,0,5,1,0,-1,1,
0,1,-1,0,1,0,-1,1,0,1,-1,0,1,0,-1,1,0,1,-1,0,
1,0,-1,1,0,1,-1,0,1,0,-1,1,0,1,-1,0,1,0,-1,1,
0];

const comp20 = [
-1,-2,0,1,3,4,3,4,3,4,3,4,3,4,5,4,3,1,0,-1,
-2,-1,-3,-2,-1,0,-1,0,1,0,-1,0,1,0,1,0,1,0,1,0,
1,2,1,2,1,0,1,0,-1,0,1,0,1,2,1,2,3,2,3,2,
1,0,1,0,-1,0,1,0,-1,0,1,2,1,0,1,2,3,2,1,0,
-1,-2,-3,-2,-1,0,1,0,1,0,1,2,1,2,3,2,3,2,1,0,
1,0,1,0,-1,0,1,0,1,0,-1,0,1,0,1,-1,0,1,0,1,
0,1,0,-1,0,1,0,1,0,-1,-2,-3,-2,-1,0,1,0,1,2,1,
2,3,4,3,2,1,0,1,0,-1,0,1,0,1,0,1,0,-1,0,1,
0,1,0,-1,0,1,0,1,0,-1,0,1,0,-3,-4,-3,-2,-3,-2,-1,
-2,-1,-2,-1,0,-1,0,1,0,-1,0,1,0,-1,0,1,0,1,0,-1,
0,1,0,-1,0,1,0,1,0,-1,0,1,0,1,0,-1,0,1,0,1,
0,-1,0,1,0,1,0,-1,0,1,2,1,0,1,0,-1,0,1,0,-1,
0,1,0,-1,0,1,0,1,0,-1,0,1,0,1,0,-1,0,1,0,-1,
0,1,0,-1,0,-1,-2,-3,-2,-3,-4,-3,-2,-1,0,1,0,1,2,1,
2,1,2,1,2,3,2,3,2,3,1,2,1,0,1,0,-1,0,1,0,
1,0,-1,0,1,0,1,0,-1,0,1,0,1,0,-1,0,1,0,1,0,
-1,0,1,0,1,0,-1,0,1,0,1,0,-1,0,1,0,-1,0,1,0,
1,0,-1,0,1,0,1,0,-1,0,1,0,1,0,-1,-5,-2,0,1,0,
1,0,1,-1,0,1,0,-1,-2,-1,0,-1,0,1,0,-1,0,1,0,-1,
0,-1,-2,-1,-2,-1,0,1,2,1,2,1,2,3,2,1,2,1,2,1,
1];

const components = [comp1, comp2, comp3, comp4, comp5, comp6, comp7, comp8, comp9, comp10,
  comp11, comp12, comp13, comp14, comp15, comp16, comp17, comp18, comp19, comp20];

// ---- drawing ----
const palette = ["#0072BD", "#D95319", "#EDB120", "#7E2F8E", "#77AC30", "#4DBEEE", "#A2142F"];
function colorFor(i) { return palette[(i % 10) % 7]; }
// heavier strokes for the dense, noisy traces
const strokeWidths = [1.2, 1.2, 1.2, 1.2, 1.2, 1.3, 1.7, 1.7, 1.4, 1.2,
                      1.5, 1.3, 1.6, 1.2, 1.9, 1.3, 1.3, 1.2, 1.2, 1.2];

const svg = d3.select("svg");
const plot = { left: 207, right: 1118, top: 80, bottom: 958 };

svg.append("rect").attr("width", 1136).attr("height", 1025).attr("fill", "#fff");

// outer blue frame
svg.append("rect")
  .attr("x", 9).attr("y", 9)
  .attr("width", 1122).attr("height", 1100)
  .attr("rx", 4)
  .attr("fill", "none")
  .attr("stroke", "#46699a")
  .attr("stroke-width", 4);

const x = d3.scaleLinear().domain([5, 25]).range([plot.left, plot.right]);
const y = d3.scaleLinear().domain([0, plot.bottom - plot.top]).range([plot.bottom, plot.top]);

// traces
const line = d3.line()
  .x((d, i) => x(timeStart + i * timeStep))
  .y(d => d);

components.forEach((vals, i) => {
  const pts = vals.map(v => y(offsets[i] + v));
  svg.append("path")
    .attr("d", line(pts))
    .attr("fill", "none")
    .attr("stroke", colorFor(i))
    .attr("stroke-width", strokeWidths[i])
    .attr("stroke-linejoin", "round");
});

// axes box
svg.append("rect")
  .attr("x", plot.left).attr("y", plot.top)
  .attr("width", plot.right - plot.left).attr("height", plot.bottom - plot.top)
  .attr("fill", "none")
  .attr("stroke", "#4d4d4d")
  .attr("stroke-width", 1.3);

const xAxis = d3.axisBottom(x).tickValues(xTicks).tickSize(-7).tickPadding(13).tickFormat(d3.format("d"));
const gx = svg.append("g").attr("transform", `translate(0,${plot.bottom})`).call(xAxis);
gx.select(".domain").remove();
gx.selectAll(".tick line").attr("stroke", "#4d4d4d").attr("stroke-width", 1.2);
gx.selectAll(".tick text")
  .style("font-family", "'Liberation Sans', Arial, sans-serif")
  .style("font-size", "19px")
  .style("fill", "#262626");

const xTop = d3.axisTop(x).tickValues(xTicks).tickSize(-7).tickFormat("");
const gt = svg.append("g").attr("transform", `translate(0,${plot.top})`).call(xTop);
gt.select(".domain").remove();
gt.selectAll(".tick line").attr("stroke", "#4d4d4d").attr("stroke-width", 1.2);

// x label
svg.append("text")
  .attr("x", 662)
  .attr("y", 1013)
  .attr("text-anchor", "middle")
  .style("font-family", "'Liberation Sans', Arial, sans-serif")
  .style("font-size", "24px")
  .style("fill", "#262626")
  .text("Čas (s)");

// title
const title = svg.append("text")
  .attr("x", 660)
  .attr("y", 65)
  .attr("text-anchor", "middle")
  .style("font-family", "'Liberation Serif', 'Times New Roman', serif")
  .style("font-weight", "bold")
  .style("font-size", "37px")
  .style("fill", "#000");
title.append("tspan").text("Časový priebeh komponentov 1 – 20, algoritmus ");
title.append("tspan").style("font-style", "italic").text("Infomax");

// component labels
const labelX = 106;
labels.forEach((lab, i) => {
  const cy = y(offsets[i]);
  const g = svg.append("g");
  const t = g.append("text")
    .attr("class", "comp-label")
    .attr("x", labelX)
    .attr("y", cy)
    .attr("text-anchor", "middle")
    .attr("dy", "0.35em")
    .text(lab);
  if (highlighted.includes(i + 1)) {
    const bb = t.node().getBBox();
    g.insert("rect", "text")
      .attr("x", bb.x - 11)
      .attr("y", cy - 17)
      .attr("width", bb.width + 21)
      .attr("height", 35)
      .attr("fill", "#ffff00");
  }
});
</script>
</body>
</html>
